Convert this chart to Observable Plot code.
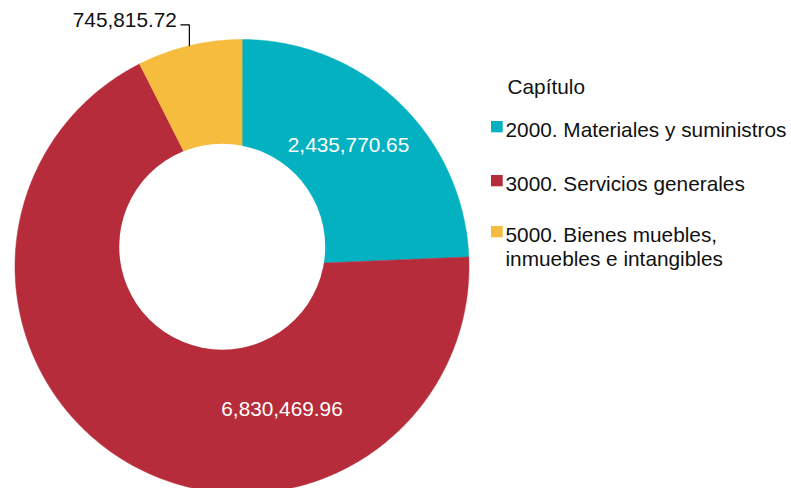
<!DOCTYPE html>
<html>
<head>
<meta charset="utf-8">
<script src="https://cdn.jsdelivr.net/npm/d3@7"></script>
<script src="https://cdn.jsdelivr.net/npm/@observablehq/plot@0.6"></script>
<style>
  html, body { margin: 0; padding: 0; background: #fff; overflow: hidden; }
  svg { display: block; }
</style>
</head>
<body>
<div id="chart"></div>
<script>
// ---- data ----
const categories = ["2000. Materiales y suministros", "3000. Servicios generales", "5000. Bienes muebles, inmuebles e intangibles"];
const values = [2435770.65, 6830469.96, 745815.72];
const valueLabels = ["2,435,770.65", "6,830,469.96", "745,815.72"];
const legendLines = ["2000. Materiales y suministros", "3000. Servicios generales", "5000. Bienes muebles,\ninmuebles e intangibles"];
const legendTitle = "Capítulo";
const colors = ["#03B1C1", "#B62C3A", "#F5BC3E"];

// ---- layout ----
const W = 791, H = 488;
const cx = 241.5, cy = 266, R = 227;
const hole = {x: 221.7, y: 246.2, r: 103};
const font = "Liberation Sans, Arial, Helvetica, sans-serif";
const fs = 20.8;
// label anchors (text centre x, baseline y) for inside labels
const labelPos = [{x: 348, y: 151}, {x: 281.5, y: 415}, null];
const legendX = 505, legendBaselines = [136, 190, 265];

const arcs = d3.pie().sort(null).value(d => d)(values);

// polygon vertices for each slice
const slicePts = [];
arcs.forEach((a, i) => {
  slicePts.push({x: cx, y: cy, k: i});
  const n = Math.max(4, Math.ceil((a.endAngle - a.startAngle) / 0.01));
  for (let j = 0; j <= n; j++) {
    const t = a.startAngle + (a.endAngle - a.startAngle) * j / n;
    slicePts.push({x: cx + R * Math.sin(t), y: cy - R * Math.cos(t), k: i});
  }
});

// inside labels
const inLabels = arcs.map((a, i) => labelPos[i] ? {x: labelPos[i].x, y: labelPos[i].y, t: valueLabels[i]} : null).filter(d => d);

// outside label for small slice (index 2) with elbow leader
const small = arcs[2];
const mid = (small.startAngle + small.endAngle) / 2;
const edge = {x: cx + R * Math.sin(mid), y: cy - R * Math.cos(mid)};
const elbowY = 24.3;
const leader = [
  {x: edge.x - 8.5, y: elbowY},
  {x: edge.x, y: elbowY},
  {x: edge.x, y: edge.y}
];
const outLabel = [{x: edge.x - 12.5, y: 26, t: valueLabels[2]}];

// legend
const legendItems = categories.map((c, i) => ({
  c, i, line: legendLines[i],
  base: legendBaselines[i],
  firstBase: legendBaselines[i] - (legendLines[i].split("\n").length - 1) * 24
}));

const chart = Plot.plot({
  width: W, height: H,
  margin: 0,
  style: {fontFamily: font, background: "#fff", overflow: "hidden"},
  x: {domain: [0, W], range: [0, W], axis: null},
  y: {domain: [0, H], range: [0, H], axis: null},
  marks: [
    Plot.line(slicePts, {
      x: "x", y: "y", z: "k",
      fill: d => colors[d.k], stroke: d => colors[d.k], strokeWidth: 0.5,
      curve: "linear-closed"
    }),
    Plot.dot([hole], {x: "x", y: "y", r: hole.r, fill: "#fff", stroke: "none"}),
    Plot.text(inLabels, {
      x: "x", y: "y", text: "t", fill: "#fff", fontSize: fs,
      textAnchor: "middle", lineAnchor: "bottom", fontFamily: font
    }),
    Plot.line(leader, {x: "x", y: "y", stroke: "#000", strokeWidth: 1.2}),
    Plot.text(outLabel, {
      x: "x", y: "y", text: "t", fill: "#111", fontSize: fs,
      textAnchor: "end", lineAnchor: "bottom", fontFamily: font
    }),
    Plot.text([legendTitle], {
      x: () => 507, y: () => 93, text: d => d, fill: "#111", fontSize: fs,
      textAnchor: "start", lineAnchor: "bottom", fontFamily: font
    }),
    Plot.rect(legendItems, {
      x1: () => 491, x2: () => 502.7,
      y1: d => d.firstBase - 15, y2: d => d.firstBase - 3.7,
      fill: d => colors[d.i]
    }),
    Plot.text(legendItems, {
      x: () => legendX, y: "base", text: "line", fill: "#111", fontSize: fs,
      textAnchor: "start", lineAnchor: "bottom", lineHeight: 24 / fs, fontFamily: font
    })
  ]
});
document.getElementById("chart").append(chart);
</script>
</body>
</html>
